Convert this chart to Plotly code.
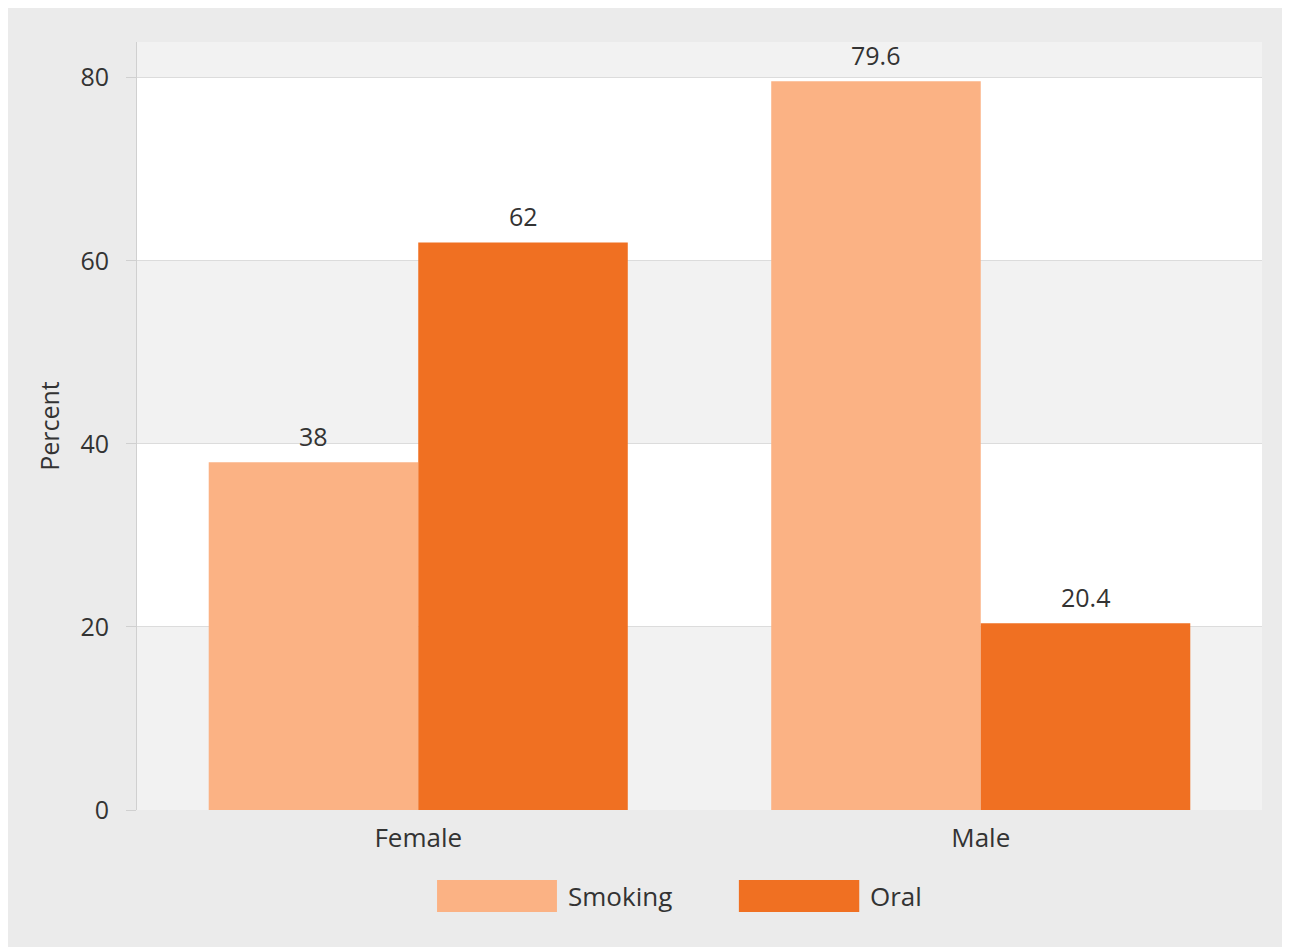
import plotly.graph_objects as go

categories = ["Female", "Male"]
smoking = [38, 79.6]
oral = [62, 20.4]
series_names = ["Smoking", "Oral"]
y_ticks = [0, 20, 40, 60, 80]
white_bands = [(20, 40), (60, 80)]

c_smoke = "#fbb284"
c_oral = "#f07022"
font_family = "Open Sans, Lato, sans-serif"
text_col = "#333333"

W, H = 1290, 947
ML, MR, MT, MB = 129, 36, 34, 145
BARGAP = 0.255
plot_w = W - ML - MR
half_bar = plot_w / len(categories) * (1 - BARGAP) / 4

fig = go.Figure()
fig.add_trace(go.Bar(x=categories, y=smoking, name=series_names[0], marker=dict(color=c_smoke, line=dict(width=0))))
fig.add_trace(go.Bar(x=categories, y=oral, name=series_names[1], marker=dict(color=c_oral, line=dict(width=0))))

# value labels above bars
for vals, sign in [(smoking, -1), (oral, 1)]:
    for cat, v in zip(categories, vals):
        fig.add_annotation(x=cat, y=v, text=f"{v:g}", showarrow=False, xshift=sign * half_bar,
                           yanchor="middle", yshift=26,
                           font=dict(size=25, color=text_col, family=font_family))

for lo, hi in white_bands:
    fig.add_shape(type="rect", xref="paper", yref="y", x0=0, x1=1, y0=lo, y1=hi,
                  fillcolor="white", line=dict(width=0), layer="below")

# custom legend with wide swatches
legend_items = [(series_names[0], c_smoke, 0.2667, 0.3733), (series_names[1], c_oral, 0.535, 0.642)]
for name, col, x0, x1 in legend_items:
    fig.add_shape(type="rect", xref="paper", yref="paper", x0=x0, x1=x1, y0=-0.0911, y1=-0.1328,
                  fillcolor=col, line=dict(width=0))
    fig.add_annotation(xref="paper", yref="paper", x=x1 + 0.008, y=-0.112, text=name, showarrow=False,
                       xanchor="left", yanchor="middle", font=dict(size=26, color=text_col, family=font_family))

fig.update_layout(
    width=W, height=H,
    margin=dict(l=ML, r=MR, t=MT, b=MB, autoexpand=False),
    paper_bgcolor="#ebebeb",
    plot_bgcolor="#f2f2f2",
    barmode="group",
    bargap=BARGAP,
    bargroupgap=0,
    showlegend=False,
    font=dict(family=font_family, color=text_col),
)
fig.update_xaxes(showgrid=False, showline=False, ticks="", tickfont=dict(size=26, color=text_col),
                 ticklabelstandoff=10)
fig.update_yaxes(range=[0, 83.9], tickvals=y_ticks, showgrid=True, gridcolor="#dcdcdc", gridwidth=1,
                 zeroline=False, showline=True, linecolor="#d0d0d0", linewidth=1,
                 ticks="outside", ticklen=10, tickcolor="#d0d0d0",
                 tickfont=dict(size=25, color=text_col), ticklabelstandoff=12,
                 title=dict(text="Percent", font=dict(size=25, color=text_col), standoff=13))

fig.write_html("out.html")
